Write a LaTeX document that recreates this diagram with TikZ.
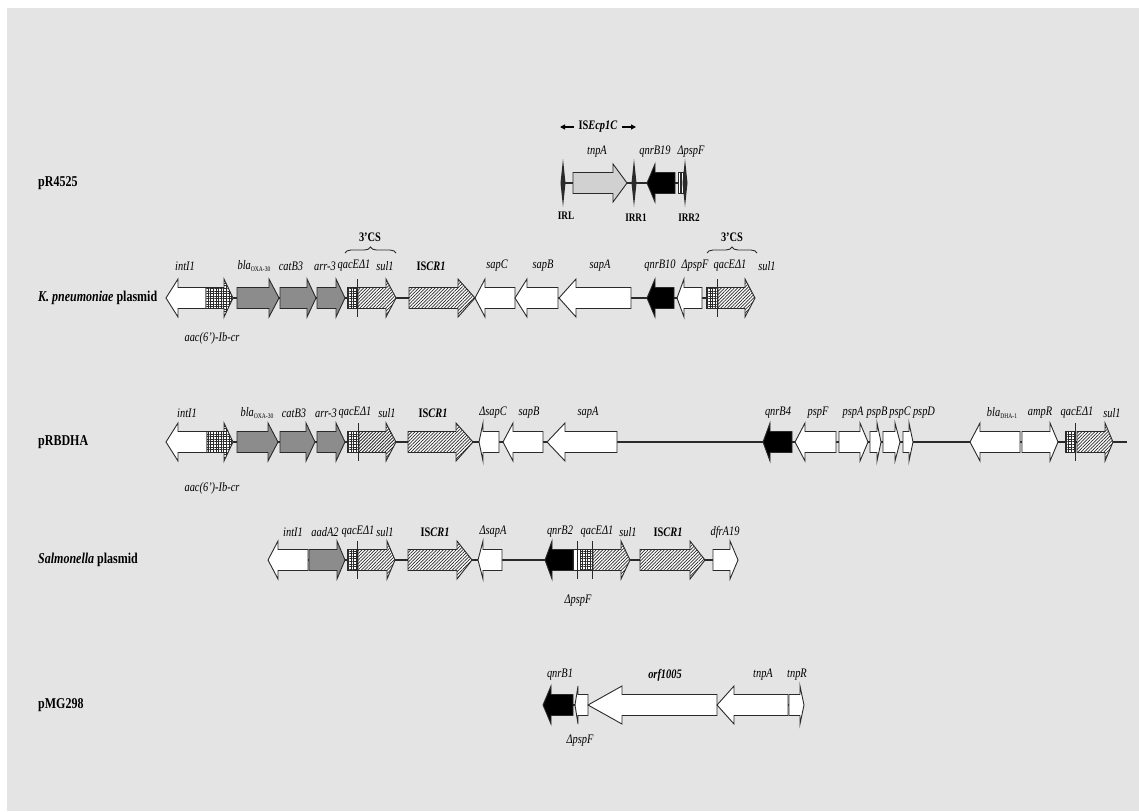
\documentclass[tikz,border=0pt]{standalone}
\usepackage{fontspec}
\setmainfont{Liberation Serif}[FakeStretch=0.8]
\usetikzlibrary{patterns.meta,decorations.pathreplacing,arrows.meta}
\definecolor{bg}{HTML}{E4E4E4}
\definecolor{ln}{HTML}{2A2A2A}
\definecolor{gfill}{HTML}{8C8C8C}
\newcommand{\HB}{10.5}
\newcommand{\HA}{19}
% right-pointing gene: style, x1, tip, head length, y
\newcommand{\rgene}[5]{\draw[#1] ({#2},{#5-\HB}) -- ({#3-#4},{#5-\HB}) -- ({#3-#4},{#5-\HA}) -- ({#3},{#5}) -- ({#3-#4},{#5+\HA}) -- ({#3-#4},{#5+\HB}) -- ({#2},{#5+\HB}) -- cycle;}
% left-pointing gene: style, tip, x2, head length, y
\newcommand{\lgene}[5]{\draw[#1] ({#3},{#5-\HB}) -- ({#2+#4},{#5-\HB}) -- ({#2+#4},{#5-\HA}) -- ({#2},{#5}) -- ({#2+#4},{#5+\HA}) -- ({#2+#4},{#5+\HB}) -- ({#3},{#5+\HB}) -- cycle;}
% qacE box: x1, x2, y
\newcommand{\qbox}[3]{\draw[gq] ({#1},{#3-\HB}) rectangle ({#2},{#3+\HB}); \draw[ln,line width=0.9pt] ({#2},{#3-\HA}) -- ({#2},{#3+\HA});}
\newcommand{\spike}[2]{\fill[ln] ({#1},{#2-24}) -- ({#1+2.5},{#2}) -- ({#1},{#2+24}) -- ({#1-2.5},{#2}) -- cycle;}
\newcommand{\glab}[4]{\node[glabel] (#1) at (#2,#3) {#4};}
\newcommand{\subt}[1]{\raisebox{-0.45ex}{\fontsize{7}{7}\selectfont\upshape #1}}
\tikzset{
  gw/.style={draw=ln, line width=0.9pt, fill=white},
  gk/.style={draw=ln, line width=0.9pt, fill=black},
  gg/.style={draw=ln, line width=0.9pt, fill=gfill},
  gh/.style={draw=ln, line width=0.9pt, preaction={fill=white}, pattern={Lines[angle=45,distance=2.3pt,line width=0.75pt]}, pattern color=ln},
  gq/.style={draw=ln, line width=0.9pt, preaction={fill=white}, pattern={Hatch[angle=0,distance=2.6pt,line width=0.6pt]}, pattern color=ln},
  gd/.style={draw=ln, line width=0.9pt, preaction={fill=gray!30}, pattern={Dots[distance=2pt,radius=0.45pt]}, pattern color=gray},
  gv/.style={draw=ln, line width=0.6pt, preaction={fill=white}, pattern={Lines[angle=90,distance=1.6pt,line width=0.5pt]}, pattern color=ln},
  bb/.style={draw=ln, line width=1.2pt},
  glabel/.style={font=\fontsize{13}{14}\selectfont\itshape, inner sep=0pt},
  blabel/.style={font=\fontsize{13}{14}\selectfont\bfseries, inner sep=0pt},
  irlabel/.style={font=\fontsize{11.5}{12}\selectfont\bfseries, inner sep=0pt},
  tlabel/.style={font=\fontsize{15}{16}\selectfont\bfseries, anchor=west, inner sep=0pt},
  brc/.style={draw=ln, line width=0.9pt, decorate, decoration={brace, amplitude=6pt}},
  isarrow/.style={draw=black, line width=1.1pt, -{Triangle[length=5pt,width=5pt]}},
}
\begin{document}
\begin{tikzpicture}[x=1pt,y=-1pt]
\useasboundingbox (0,0) rectangle (1139,811);
\fill[white] (0,0) rectangle (1139,811);
\fill[bg] (7,8) rectangle (1139,811);

% ---------- titles ----------
\node[tlabel] (t1) at (38,183) {pR4525};
\node[tlabel] (t2) at (38,298) {\textit{K. pneumoniae} plasmid};
\node[tlabel] (t3) at (38,442) {pRBDHA};
\node[tlabel] (t4) at (38,560) {\textit{Salmonella} plasmid};
\node[tlabel] (t5) at (38,705) {pMG298};

% ---------- pR4525 ----------
\draw[bb] (563,183) -- (685,183);
\rgene{gd}{573}{627}{14}{183}
\lgene{gk}{647}{675}{8}{183}
\draw[gv] (678,{183-\HB}) rectangle (684,{183+\HB});
\spike{563}{183}
\spike{634}{183}
\spike{685}{183}
\node[blabel] (isl) at (598,127) {IS\textit{Ecp1C}};
\coordinate (isa1) at (574,127);
\coordinate (isa2) at (560,127);
\coordinate (isb1) at (622,127);
\coordinate (isb2) at (636,127);
\draw[isarrow] (isa1) -- (isa2);
\draw[isarrow] (isb1) -- (isb2);
\glab{a1}{597}{152}{tnpA}
\glab{a2}{655}{152}{qnrB19}
\glab{a3}{691}{152}{ΔpspF}
\node[irlabel] (irl) at (566,216) {IRL};
\node[irlabel] (irr1) at (636,218) {IRR1};
\node[irlabel] (irr2) at (689,218) {IRR2};

% ---------- K. pneumoniae plasmid ----------
\draw[bb] (166,298) -- (755,298);
\lgene{gw}{166}{206}{12}{298}
\rgene{gq}{206}{233}{9}{298}
\rgene{gg}{237}{279}{10}{298}
\rgene{gg}{280}{316}{9}{298}
\rgene{gg}{317}{345}{9}{298}
\qbox{347}{357}{298}
\rgene{gh}{358}{396}{10}{298}
\rgene{gh}{409}{475}{17}{298}
\lgene{gw}{475}{515}{10}{298}
\lgene{gw}{515}{558}{12}{298}
\lgene{gw}{559}{631}{17}{298}
\lgene{gk}{647}{674}{8}{298}
\lgene{gw}{677}{702}{7}{298}
\qbox{706}{717}{298}
\rgene{gh}{718}{755}{10}{298}
\glab{b1}{185}{266}{intI1}
\glab{b2}{254}{266}{bla\subt{OXA-30}}
\glab{b3}{291}{266}{catB3}
\glab{b4}{325}{266}{arr-3}
\glab{b5}{354}{266}{qacEΔ1}
\glab{b6}{385}{266}{sul1}
\node[blabel] (b7) at (431,266) {IS\textit{CR1}};
\glab{b8}{497}{266}{sapC}
\glab{b9}{543}{266}{sapB}
\glab{b10}{600}{266}{sapA}
\glab{b11}{660}{266}{qnrB10}
\glab{b12}{695}{266}{ΔpspF}
\glab{b13}{730}{266}{qacEΔ1}
\glab{b14}{767}{266}{sul1}
\glab{b15}{212}{338}{aac(6')-Ib-cr}
\coordinate (cs1a) at (345,253);
\coordinate (cs1b) at (396,253);
\coordinate (cs2a) at (707,253);
\coordinate (cs2b) at (757,253);
\draw[brc] (cs1a) -- (cs1b);
\draw[brc] (cs2a) -- (cs2b);
\node[blabel] (cs1) at (370,237) {3'CS};
\node[blabel] (cs2) at (732,237) {3'CS};

% ---------- pRBDHA ----------
\draw[bb] (166,442) -- (1127,442);
\lgene{gw}{166}{207}{12}{442}
\rgene{gq}{207}{233}{9}{442}
\rgene{gg}{237}{278}{10}{442}
\rgene{gg}{280}{315}{9}{442}
\rgene{gg}{317}{345}{9}{442}
\qbox{347}{358}{442}
\rgene{gh}{359}{396}{10}{442}
\rgene{gh}{408}{473}{17}{442}
\lgene{gw}{479}{499}{4}{442}
\lgene{gw}{503}{543}{10}{442}
\lgene{gw}{547}{617}{18}{442}
\lgene{gk}{763}{792}{7}{442}
\lgene{gw}{795}{836}{10}{442}
\rgene{gw}{839}{868}{8}{442}
\rgene{gw}{870}{881}{4}{442}
\rgene{gw}{883}{900}{5}{442}
\rgene{gw}{903}{913}{4}{442}
\lgene{gw}{970}{1020}{10}{442}
\rgene{gw}{1022}{1058}{8}{442}
\qbox{1065}{1075}{442}
\rgene{gh}{1077}{1113}{8}{442}
\glab{c1}{187}{413}{intI1}
\glab{c2}{257}{413}{bla\subt{OXA-30}}
\glab{c3}{294}{413}{catB3}
\glab{c4}{326}{413}{arr-3}
\glab{c5}{355}{413}{qacEΔ1}
\glab{c6}{387}{413}{sul1}
\node[blabel] (c7) at (433,413) {IS\textit{CR1}};
\glab{c8}{493}{413}{ΔsapC}
\glab{c9}{529}{413}{sapB}
\glab{c10}{588}{413}{sapA}
\glab{c11}{778}{413}{qnrB4}
\glab{c12}{818}{413}{pspF}
\glab{c13}{853}{413}{pspA}
\glab{c14}{877}{413}{pspB}
\glab{c15}{900}{413}{pspC}
\glab{c16}{924}{413}{pspD}
\glab{c17}{1002}{413}{bla\subt{DHA-1}}
\glab{c18}{1040}{413}{ampR}
\glab{c19}{1077}{413}{qacEΔ1}
\glab{c20}{1112}{413}{sul1}
\glab{c21}{212}{488}{aac(6')-Ib-cr}

% ---------- Salmonella plasmid ----------
\draw[bb] (268,560) -- (738,560);
\lgene{gw}{268}{308}{10}{560}
\rgene{gg}{309}{345}{8}{560}
\qbox{347}{357}{560}
\rgene{gh}{358}{395}{8}{560}
\rgene{gh}{408}{472}{15}{560}
\lgene{gw}{478}{502}{5}{560}
\lgene{gk}{545}{573}{7}{560}
\draw[gw] (573,{560-\HB}) rectangle (580,{560+\HB});
\draw[ln,line width=0.9pt] (577,{560-\HA}) -- (577,{560+\HA});
\qbox{580}{592}{560}
\rgene{gh}{593}{630}{9}{560}
\rgene{gh}{640}{705}{15}{560}
\rgene{gw}{713}{738}{8}{560}
\glab{d1}{293}{532}{intI1}
\glab{d2}{325}{532}{aadA2}
\glab{d3}{358}{532}{qacEΔ1}
\glab{d4}{385}{532}{sul1}
\node[blabel] (d5) at (435,532) {IS\textit{CR1}};
\glab{d6}{493}{532}{ΔsapA}
\glab{d7}{560}{532}{qnrB2}
\glab{d8}{597}{532}{qacEΔ1}
\glab{d9}{628}{532}{sul1}
\node[blabel] (d10) at (668,532) {IS\textit{CR1}};
\glab{d11}{725}{532}{dfrA19}
\glab{d12}{578}{601}{ΔpspF}

% ---------- pMG298 ----------
\draw[bb] (543,705) -- (804,705);
\lgene{gk}{543}{573}{8}{705}
\lgene{gw}{575}{588}{3}{705}
\lgene{gw}{588}{717}{34}{705}
\lgene{gw}{717}{788}{17}{705}
\rgene{gw}{789}{804}{4}{705}
\glab{e1}{560}{675}{qnrB1}
\node[blabel] (e2) at (665,675) {\textit{orf1005}};
\glab{e3}{763}{675}{tnpA}
\glab{e4}{797}{675}{tnpR}
\glab{e5}{580}{741}{ΔpspF}
\end{tikzpicture}
\end{document}
